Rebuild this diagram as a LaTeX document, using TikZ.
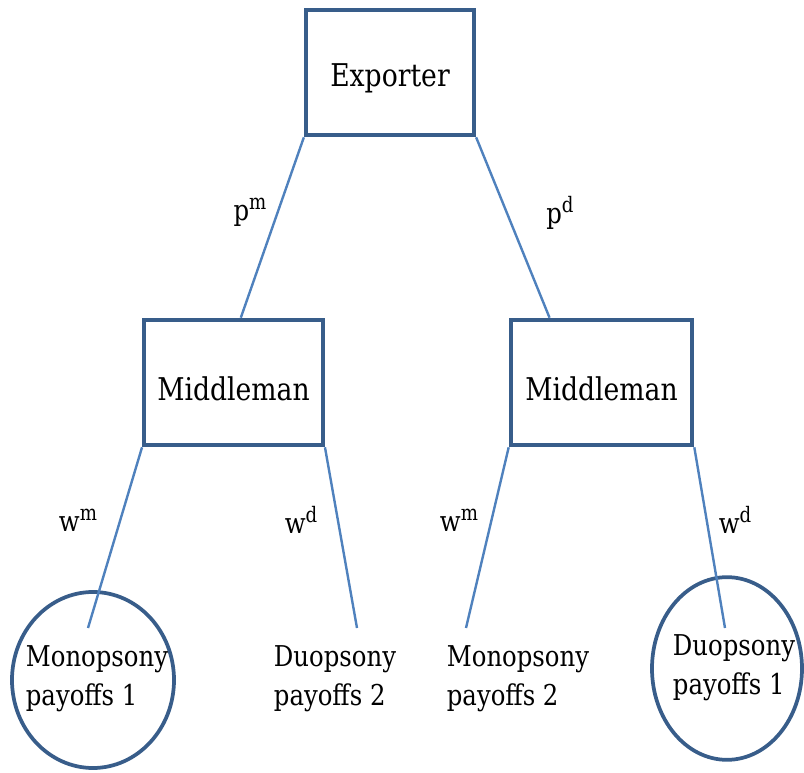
\documentclass[tikz,border=0pt]{standalone}
\usepackage{fontspec}
\setmainfont{DejaVu Serif}[FakeStretch=0.85]
\usetikzlibrary{calc,shapes.geometric}
\definecolor{boxblue}{RGB}{56,93,138}
\definecolor{lineblue}{RGB}{79,129,189}
\newcommand{\supx}[1]{\raisebox{0.38em}{\fontsize{16}{16}\selectfont #1}}
\newcommand{\lowtext}[1]{\raisebox{-4.5pt}[\height][\depth]{#1}}
\begin{document}
\begin{tikzpicture}[x=0.75pt,y=-0.75pt,
  playerbox/.style={draw=boxblue, line width=3.2pt, fill=white, inner sep=0pt,
    font=\fontsize{23.5}{28}\selectfont},
  leafoval/.style={draw=boxblue, line width=2.8pt, ellipse, inner sep=0pt},
  leaftext/.style={align=left, inner sep=0pt, font=\fontsize{21.5}{29}\selectfont},
  edgelabel/.style={inner sep=0pt, font=\fontsize{21.5}{25}\selectfont},
  branch/.style={draw=lineblue, line width=1.8pt}]
\useasboundingbox (0,0) rectangle (804,773);
% player boxes
\node[playerbox, minimum width=126pt, minimum height=94pt] (exp) at (390,72.5) {\lowtext{Exporter}};
\node[playerbox, minimum width=134pt, minimum height=94pt] (mL) at (233.5,382.5) {\lowtext{Middleman}};
\node[playerbox, minimum width=136pt, minimum height=94pt] (mR) at (601.5,382.5) {\lowtext{Middleman}};
% ovals
\node[leafoval, minimum width=121.5pt, minimum height=132pt] (ovL) at (93,680) {};
\node[leafoval, minimum width=112.5pt, minimum height=137pt] (ovR) at (727,668.5) {};
% leaf texts
\node[leaftext] (l1) at (97,679) {Monopsony\\payoffs 1};
\node[leaftext] (l2) at (335,679) {Duopsony\\payoffs 2};
\node[leaftext] (l3) at (518,679) {Monopsony\\payoffs 2};
\node[leaftext] (l4) at (734,668) {Duopsony\\payoffs 1};
% free ends of branches
\coordinate (e1) at (88,628);
\coordinate (e2) at (357,628);
\coordinate (e3) at (466,628);
\coordinate (e4) at (725,628);
% branches
\draw[branch] (exp.south west) -- ($(mL.north west)!0.54!(mL.north east)$);
\draw[branch] (exp.south east) -- ($(mR.north west)!0.22!(mR.north east)$);
\draw[branch] (mL.south west) -- (e1);
\draw[branch] (mL.south east) -- (e2);
\draw[branch] (mR.south west) -- (e3);
\draw[branch] (mR.south east) -- (e4);
% labels
\node[edgelabel] (pm) at (250,212) {p\supx{m}};
\node[edgelabel] (pd) at (560,213) {p\supx{d}};
\node[edgelabel] (wm1) at (78,520) {w\supx{m}};
\node[edgelabel] (wd1) at (301,520) {w\supx{d}};
\node[edgelabel] (wm2) at (459,520) {w\supx{m}};
\node[edgelabel] (wd2) at (735,520) {w\supx{d}};
\end{tikzpicture}
\end{document}
